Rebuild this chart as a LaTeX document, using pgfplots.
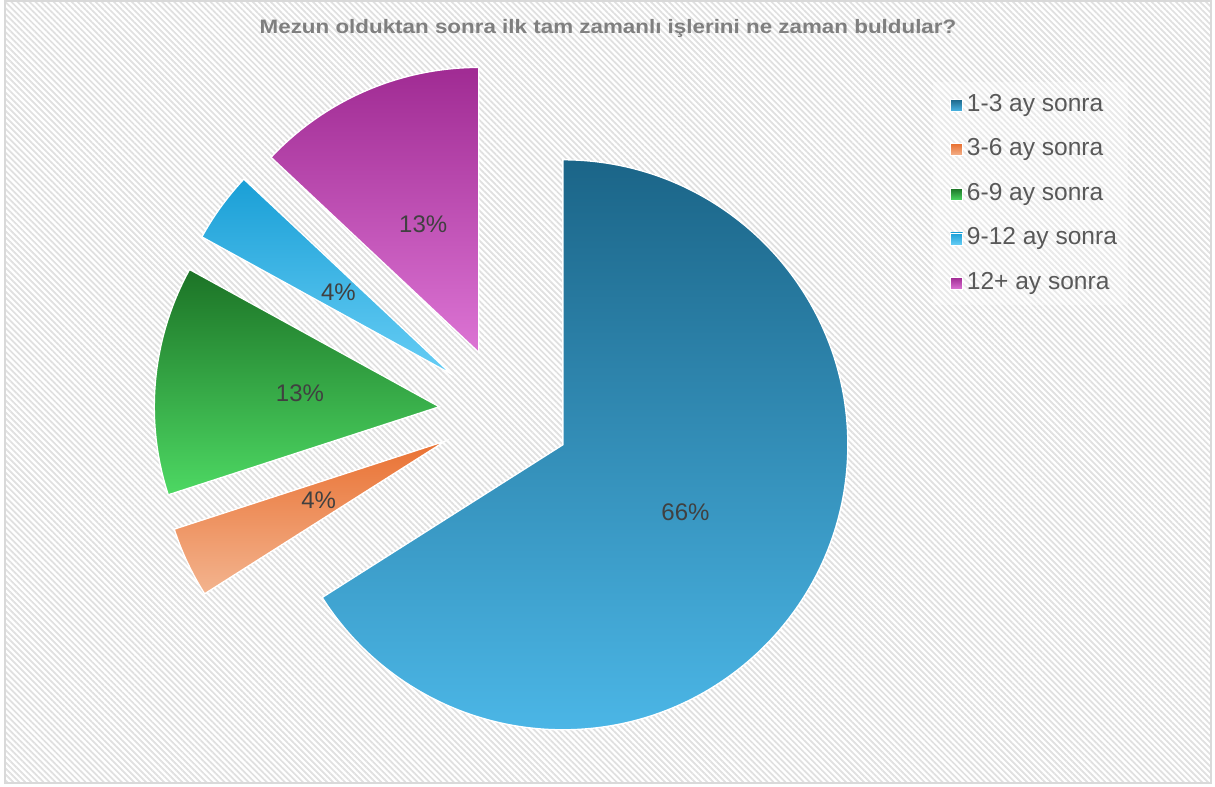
\documentclass[border=0pt]{standalone}
\usepackage{pgfplots}
\pgfplotsset{compat=1.18}
\usepackage{pgfplotstable}
\usepackage{graphicx}
\usepackage{fontspec}
\setmainfont{Liberation Sans}
\usetikzlibrary{patterns.meta}

\definecolor{c0t}{HTML}{1B6588}\definecolor{c0b}{HTML}{4BB6E6}
\definecolor{c1t}{HTML}{E97132}\definecolor{c1b}{HTML}{F3B48F}
\definecolor{c2t}{HTML}{1C7326}\definecolor{c2b}{HTML}{4DD863}
\definecolor{c3t}{HTML}{1A9FD6}\definecolor{c3b}{HTML}{66CDF5}
\definecolor{c4t}{HTML}{A02B93}\definecolor{c4b}{HTML}{DC74D4}
\definecolor{titlegray}{HTML}{7F7F7F}
\definecolor{legendgray}{HTML}{595959}
\definecolor{labelgray}{HTML}{404040}
\definecolor{bordergray}{HTML}{D9D9D9}

% share of each answer, in percent
\pgfplotstableread{
pct
66
4
13
4
13
}\piedata

\newcommand\labelfont{\fontsize{18}{21}\selectfont}

\begin{document}
\begin{tikzpicture}
\begin{axis}[
  x=0.75pt, y=0.75pt,
  xmin=0, xmax=1215, ymin=0, ymax=787,
  hide axis, clip=false,
  legend cell align=left,
  legend style={at={(axis cs:946,700)}, anchor=north west, draw=none,
    fill=none,
    font=\fontsize{18.4}{21}\selectfont, text=legendgray,
    row sep=10.4pt,
    nodes={inner sep=3pt, text height=13pt, text depth=4pt}},
]
% background
\fill[white] (axis cs:0,0) rectangle (axis cs:1215,787);
\fill[pattern={Lines[angle=-45,distance=3.2pt,line width=1.3pt]}, pattern color=black!12]
  (axis cs:5,4) rectangle (axis cs:1211,786);
\draw[bordergray, line width=1.2pt] (axis cs:5,4) rectangle (axis cs:1211,786);
\fill[white, opacity=0.3] (axis cs:933,482) rectangle (axis cs:1128,705);

% title
\node[text=titlegray, font=\bfseries\fontsize{14.6}{16}\selectfont] at (axis cs:608,759)
  {\scalebox{1.15}[1]{Mezun olduktan sonra ilk tam zamanlı işlerini ne zaman buldular?}};

% slices
\def\cum{0}
\pgfplotsforeachungrouped \i in {0,...,4}{%
  \pgfplotstablegetelem{\i}{pct}\of\piedata
  \let\p\pgfplotsretval
  \pgfmathsetmacro\sa{90-3.6*\cum}%
  \pgfmathsetmacro\se{90-3.6*(\cum+\p)}%
  \pgfmathsetmacro\sm{(\sa+\se)/2}%
  \pgfmathsetmacro\tx{505+66*cos(\sm)}%
  \pgfmathsetmacro\ty{374+66*sin(\sm)}%
  \pgfmathsetmacro\lx{505+206*cos(\sm)}%
  \pgfmathsetmacro\ly{374+206*sin(\sm)}%
  \pgfmathsetmacro\cum{\cum+\p}%
  \pgfmathtruncatemacro\pp{\p}%
  \edef\temp{%
    \noexpand\path[draw=white, line width=1pt, top color=c\i t, bottom color=c\i b]
      (axis cs:\tx,\ty) -- ++(\sa:213.75pt)
      arc[start angle=\sa, end angle=\se, radius=213.75pt] -- cycle;
    \noexpand\node[font=\noexpand\labelfont, text=labelgray] at (axis cs:\lx,\ly) {\pp\noexpand\%};
  }%
  \temp
}

\addlegendimage{legend image code/.code={\path[draw=white,line width=0.5pt,top color=c0t,bottom color=c0b] (0pt,-4.5pt) rectangle (9pt,4.5pt);}}
\addlegendentry{1-3 ay sonra}
\addlegendimage{legend image code/.code={\path[draw=white,line width=0.5pt,top color=c1t,bottom color=c1b] (0pt,-4.5pt) rectangle (9pt,4.5pt);}}
\addlegendentry{3-6 ay sonra}
\addlegendimage{legend image code/.code={\path[draw=white,line width=0.5pt,top color=c2t,bottom color=c2b] (0pt,-4.5pt) rectangle (9pt,4.5pt);}}
\addlegendentry{6-9 ay sonra}
\addlegendimage{legend image code/.code={\path[draw=white,line width=0.5pt,top color=c3t,bottom color=c3b] (0pt,-4.5pt) rectangle (9pt,4.5pt);}}
\addlegendentry{9-12 ay sonra}
\addlegendimage{legend image code/.code={\path[draw=white,line width=0.5pt,top color=c4t,bottom color=c4b] (0pt,-4.5pt) rectangle (9pt,4.5pt);}}
\addlegendentry{12+ ay sonra}
\end{axis}
\end{tikzpicture}
\end{document}
